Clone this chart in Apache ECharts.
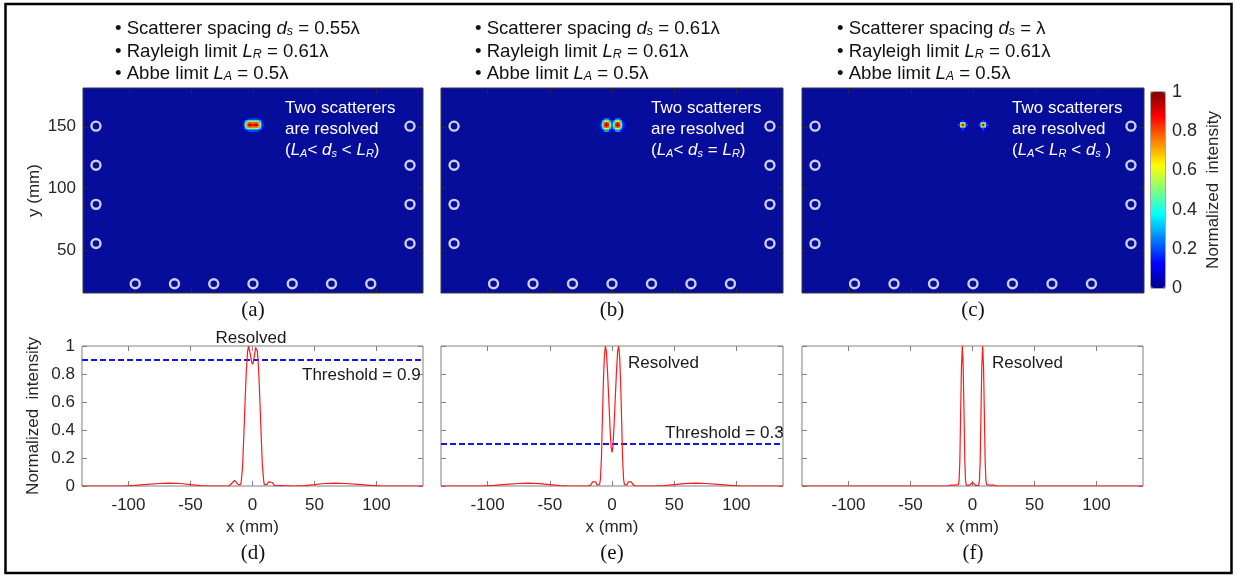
<!DOCTYPE html>
<html>
<head>
<meta charset="utf-8">
<script src="https://cdn.jsdelivr.net/npm/echarts@6/dist/echarts.min.js"></script>
<style>
  html, body { margin: 0; padding: 0; background: #fff; }
  #chart { width: 1237px; height: 577px; }
</style>
</head>
<body>
<div id="chart"></div>
<script>
const FONT = 'Liberation Sans, Arial, Helvetica, sans-serif';
const SERIF = 'Liberation Serif, Times New Roman, serif';

// axes
const xTicks = [-100, -50, 0, 50, 100];
const mapYTicks = [50, 100, 150];
const colorbarTicks = [0, 0.2, 0.4, 0.6, 0.8, 1];

// sensor positions (mm)
const sensorSideX = [-127, 127];
const sensorSideY = [150.5, 118.75, 87, 55.25];
const sensorBottomX = [-95.25, -63.5, -31.75, 0, 31.75, 63.5, 95.25];
const sensorBottomY = 22.5;

// image patches around the two scatterers (normalized intensity)
const spotAX = [-7.5, -6, -4.5, -3, -1.5, 0, 1.5, 3, 4.5, 6, 7.5];
const spotAY = [156, 154.5, 153, 151.5, 150, 148.5, 147];
const spotA = [
  [0.05, 0.1, 0.15, 0.2, 0.2, 0.2, 0.2, 0.2, 0.15, 0.1, 0.05],
  [0.1, 0.3, 0.45, 0.52, 0.5, 0.5, 0.5, 0.52, 0.45, 0.3, 0.1],
  [0.15, 0.45, 0.72, 0.82, 0.8, 0.78, 0.8, 0.82, 0.72, 0.45, 0.15],
  [0.18, 0.52, 0.8, 0.96, 0.9, 0.86, 0.9, 0.96, 0.8, 0.52, 0.18],
  [0.15, 0.45, 0.72, 0.82, 0.8, 0.78, 0.8, 0.82, 0.72, 0.45, 0.15],
  [0.1, 0.3, 0.45, 0.52, 0.5, 0.5, 0.5, 0.52, 0.45, 0.3, 0.1],
  [0.05, 0.1, 0.15, 0.2, 0.2, 0.2, 0.2, 0.2, 0.15, 0.1, 0.05]
];

const spotBX = [-9, -7.5, -6, -4.5, -3, -1.5, 0, 1.5, 3, 4.5, 6, 7.5, 9];
const spotBY = [156, 154.5, 153, 151.5, 150, 148.5, 147];
const spotB = [
  [0.05, 0.12, 0.25, 0.3, 0.25, 0.12, 0.06, 0.12, 0.25, 0.3, 0.25, 0.12, 0.05],
  [0.1, 0.3, 0.55, 0.65, 0.55, 0.3, 0.15, 0.3, 0.55, 0.65, 0.55, 0.3, 0.1],
  [0.15, 0.42, 0.78, 0.9, 0.78, 0.42, 0.22, 0.42, 0.78, 0.9, 0.78, 0.42, 0.15],
  [0.18, 0.5, 0.86, 0.97, 0.86, 0.5, 0.26, 0.5, 0.86, 0.97, 0.86, 0.5, 0.18],
  [0.15, 0.42, 0.78, 0.9, 0.78, 0.42, 0.22, 0.42, 0.78, 0.9, 0.78, 0.42, 0.15],
  [0.1, 0.3, 0.55, 0.65, 0.55, 0.3, 0.15, 0.3, 0.55, 0.65, 0.55, 0.3, 0.1],
  [0.05, 0.12, 0.25, 0.3, 0.25, 0.12, 0.06, 0.12, 0.25, 0.3, 0.25, 0.12, 0.05]
];

const spotCX = [-11.2, -9.7, -8.2, -6.7, -5.2, 5.2, 6.7, 8.2, 9.7, 11.2];
const spotCY = [154.5, 153, 151.5, 150, 148.5];
const spotC = [
  [0.04, 0.12, 0.2, 0.12, 0.04, 0.04, 0.12, 0.2, 0.12, 0.04],
  [0.12, 0.45, 0.7, 0.45, 0.12, 0.12, 0.45, 0.7, 0.45, 0.12],
  [0.2, 0.7, 0.95, 0.7, 0.2, 0.2, 0.7, 0.95, 0.7, 0.2],
  [0.12, 0.45, 0.7, 0.45, 0.12, 0.12, 0.45, 0.7, 0.45, 0.12],
  [0.04, 0.12, 0.2, 0.12, 0.04, 0.04, 0.12, 0.2, 0.12, 0.04]
];

// profiles along y = 150 mm
const profileD = [
  [-137.5, 0], [-105, 0], [-95, 0.004], [-85, 0.012], [-75, 0.018], [-67, 0.02], [-58, 0.018], [-50, 0.01],
  [-42, 0.003], [-35, 0], [-19, 0], [-17.5, 0.005], [-16, 0.025], [-14.5, 0.04], [-13, 0.03], [-11.5, 0.01],
  [-10.5, 0], [-9.5, 0.01], [-9, 0.04], [-8, 0.14], [-7, 0.36], [-6, 0.6], [-5, 0.82], [-4, 0.96],
  [-3.2, 1.0], [-2.5, 0.99], [-1.5, 0.93], [-0.7, 0.885], [0, 0.87], [0.7, 0.885], [1.5, 0.93], [2.5, 0.99],
  [3.2, 1.0], [4, 0.96], [5, 0.82], [6, 0.6], [7, 0.36], [8, 0.14], [9, 0.04], [9.5, 0.01],
  [10.5, 0], [11.5, 0.01], [13, 0.03], [14.5, 0.04], [16, 0.025], [17.5, 0.005], [19, 0], [35, 0],
  [42, 0.003], [50, 0.01], [58, 0.018], [67, 0.02], [75, 0.018], [85, 0.012], [95, 0.004], [105, 0], [137.5, 0]
];
const profileE = [
  [-137.5, 0], [-105, 0], [-95, 0.004], [-85, 0.012], [-75, 0.018], [-68, 0.02], [-58, 0.017], [-50, 0.01],
  [-42, 0.003], [-35, 0], [-19, 0], [-17, 0.008], [-15.5, 0.03], [-14.5, 0.04], [-13.2, 0.03], [-12, 0.008],
  [-11, 0], [-10, 0.01], [-9.3, 0.05], [-8.5, 0.2], [-7.8, 0.45], [-7, 0.72], [-6.2, 0.92], [-5.3, 1.0],
  [-4.5, 0.96], [-3.5, 0.8], [-2.5, 0.6], [-1.5, 0.4], [-0.7, 0.28], [0, 0.24], [0.7, 0.28], [1.5, 0.4],
  [2.5, 0.6], [3.5, 0.8], [4.5, 0.96], [5.3, 1.0], [6.2, 0.92], [7, 0.72], [7.8, 0.45], [8.5, 0.2],
  [9.3, 0.05], [10, 0.01], [11, 0], [12, 0.008], [13.2, 0.03], [14.5, 0.04], [15.5, 0.03], [17, 0.008],
  [19, 0], [35, 0], [42, 0.003], [50, 0.01], [58, 0.017], [68, 0.02], [75, 0.018], [85, 0.012], [95, 0.004],
  [105, 0], [137.5, 0]
];
const profileF = [
  [-137.5, 0], [-20, 0], [-17, 0.006], [-15.5, 0.01], [-14, 0.006], [-12.5, 0], [-11.4, 0.01], [-10.8, 0.04],
  [-10.2, 0.18], [-9.6, 0.5], [-8.9, 0.85], [-8.2, 1.0], [-7.5, 0.85], [-6.8, 0.5], [-6.2, 0.18], [-5.6, 0.04],
  [-5, 0.005], [-4, 0], [-2.5, 0.005], [-1.5, 0.018], [0, 0.025], [1.5, 0.018], [2.5, 0.005], [4, 0],
  [5, 0.005], [5.6, 0.04], [6.2, 0.18], [6.8, 0.5], [7.5, 0.85], [8.2, 1.0], [8.9, 0.85], [9.6, 0.5],
  [10.2, 0.18], [10.8, 0.04], [11.4, 0.01], [12.5, 0], [14, 0.006], [15.5, 0.01], [17, 0.006], [20, 0], [137.5, 0]
];
const thresholdD = 0.9;
const thresholdE = 0.3;

const spacingText = ['0.55λ', '0.61λ', 'λ'];
const conditionText = [
  '{w|(}{i|L}{s|A}{w|< }{i|d}{s|s}{w| < }{i|L}{s|R}{w|)}',
  '{w|(}{i|L}{s|A}{w|< }{i|d}{s|s}{w| = }{i|L}{s|R}{w|)}',
  '{w|(}{i|L}{s|A}{w|< }{i|L}{s|R}{w| < }{i|d}{s|s}{w| )}'
];

const jet = ['#00008f', '#0000ff', '#0080ff', '#00ffff', '#80ff80', '#ffff00', '#ff8000', '#ff0000', '#800000'];

function cells(xs, ys, m) {
  const out = [];
  ys.forEach((y, i) => xs.forEach((x, j) => { if (m[i][j] > 0) out.push([x, y, m[i][j]]); }));
  return out;
}
const sensors = sensorSideY.flatMap(y => sensorSideX.map(x => [x, y]))
  .concat(sensorBottomX.map(x => [x, sensorBottomY]));

const grids = [
  { left: 83, top: 88, width: 340, height: 205 },
  { left: 441, top: 88, width: 342, height: 205 },
  { left: 802, top: 88, width: 342, height: 205 },
  { left: 82, top: 346, width: 341, height: 140 },
  { left: 441, top: 346, width: 342, height: 140 },
  { left: 802, top: 346, width: 341, height: 140 },
  { left: 1151, top: 92, width: 14, height: 196 }
].map((g, i) => Object.assign(g, {
  show: true,
  backgroundColor: i < 3 ? '#070d9b' : 'transparent',
  borderColor: i < 3 ? '#3a3a3a' : (i < 6 ? '#808080' : '#555'),
  borderWidth: 1
}));

const labelStyle = { fontSize: 17, color: '#262626', fontFamily: FONT };
const xAxis = [], yAxis = [];
for (let i = 0; i < 6; i++) {
  const isMap = i < 3;
  const tickColor = isMap ? '#2a2a2a' : '#808080';
  const xt = { show: true, inside: true, length: 5, lineStyle: { color: tickColor }, customValues: xTicks };
  ['bottom', 'top'].forEach(pos => {
    const withLabels = !isMap && pos === 'bottom';
    xAxis.push({
      gridIndex: i, type: 'value', position: pos, min: -137.5, max: 137.5,
      axisLine: { show: false, onZero: false }, splitLine: { show: false }, axisTick: xt,
      axisLabel: withLabels ? Object.assign({ customValues: xTicks, margin: 11 }, labelStyle) : { show: false },
      name: withLabels ? 'x (mm)' : '', nameLocation: 'middle', nameGap: 33, nameTextStyle: labelStyle
    });
  });
  ['left', 'right'].forEach(pos => {
    const withLabels = pos === 'left' && (i === 0 || i === 3);
    const yt = { show: true, inside: true, length: 5, lineStyle: { color: tickColor } };
    const ax = {
      gridIndex: i, type: 'value', position: pos,
      axisLine: { show: false, onZero: false }, splitLine: { show: false },
      axisLabel: withLabels ? Object.assign({ margin: 7 }, labelStyle) : { show: false },
      name: withLabels ? (isMap ? 'y (mm)' : 'Normalized  intensity') : '',
      nameLocation: 'middle', nameGap: 40, nameRotate: 90, nameTextStyle: labelStyle
    };
    if (isMap) {
      Object.assign(ax, { min: 15, max: 181.5, axisTick: Object.assign({ customValues: mapYTicks }, yt) });
      if (withLabels) ax.axisLabel.customValues = mapYTicks;
    } else {
      Object.assign(ax, { min: 0, max: 1, interval: 0.2, axisTick: yt });
    }
    yAxis.push(ax);
  });
}
// colorbar axes
xAxis.push({ gridIndex: 6, type: 'value', show: false, min: 0, max: 1 });
yAxis.push({
  gridIndex: 6, type: 'value', position: 'right', min: 0, max: 1, interval: 0.2,
  axisLine: { show: false, onZero: false }, splitLine: { show: false }, axisTick: { show: false },
  axisLabel: { margin: 7, fontSize: 18, color: '#262626', fontFamily: FONT },
  name: 'Normalized  intensity', nameLocation: 'middle', nameGap: 40, nameRotate: 90, nameTextStyle: labelStyle
});

const CELL = 1.5;
function renderCell(params, api) {
  const c = api.coord([api.value(0), api.value(1)]);
  const s = api.size([CELL, CELL]);
  return {
    type: 'rect',
    shape: { x: c[0] - s[0] / 2, y: c[1] - s[1] / 2, width: s[0] + 0.6, height: s[1] + 0.6 },
    style: { fill: api.visual('color') }
  };
}

const series = [];
[cells(spotAX, spotAY, spotA), cells(spotBX, spotBY, spotB), cells(spotCX, spotCY, spotC)].forEach((d, i) => {
  series.push({ type: 'custom', xAxisIndex: 2 * i, yAxisIndex: 2 * i, data: d, encode: { x: 0, y: 1 }, renderItem: renderCell, silent: true });
});
for (let i = 0; i < 3; i++) {
  series.push({
    type: 'scatter', xAxisIndex: 2 * i, yAxisIndex: 2 * i, data: sensors, symbol: 'circle', symbolSize: 9,
    itemStyle: { color: 'transparent', borderColor: '#ffffff', borderWidth: 2.4 }, silent: true, z: 5
  });
}
[[thresholdD, 3], [thresholdE, 4]].forEach(([t, g]) => {
  series.push({
    type: 'line', xAxisIndex: 2 * g, yAxisIndex: 2 * g, data: [[-137.5, t], [137.5, t]], showSymbol: false,
    lineStyle: { color: '#1515e6', width: 2, type: [6, 3] }, silent: true, z: 3
  });
});
[profileD, profileE, profileF].forEach((d, i) => {
  series.push({
    type: 'line', xAxisIndex: 2 * (i + 3), yAxisIndex: 2 * (i + 3), data: d, showSymbol: false,
    lineStyle: { color: '#ff1a1a', width: 1.2 }, silent: true, z: 4
  });
});

function richSet(color, size, subSize, lh) {
  return {
    t: { fontSize: size, lineHeight: lh, fontFamily: FONT, fill: color, verticalAlign: 'bottom' },
    w: { fontSize: size, lineHeight: lh, fontFamily: FONT, fill: color, verticalAlign: 'bottom' },
    i: { fontSize: size, lineHeight: lh, fontFamily: FONT, fontStyle: 'italic', fill: color, verticalAlign: 'bottom' },
    s: { fontSize: subSize, lineHeight: subSize, fontFamily: FONT, fontStyle: 'italic', fill: color, verticalAlign: 'bottom' }
  };
}
const headerRich = richSet('#111111', 18.6, 12.5, 22.5);
const whiteRich = richSet('#ffffff', 17, 11, 21);

const graphic = [{
  type: 'rect', shape: { x: 5.5, y: 4, width: 1226, height: 569 },
  style: { fill: 'none', stroke: '#000', lineWidth: 2.5 }, silent: true
}];
const headerX = [115, 475, 837];
const whiteX = [285, 651, 1012];
const panelCx = [253, 612, 973];
for (let i = 0; i < 3; i++) {
  graphic.push({
    type: 'text', x: headerX[i], y: 16, silent: true,
    style: {
      text: '{t|• Scatterer spacing }{i|d}{s|s}{t| = ' + spacingText[i] + '}\n' +
            '{t|• Rayleigh limit }{i|L}{s|R}{t| = 0.61λ}\n' +
            '{t|• Abbe limit }{i|L}{s|A}{t| = 0.5λ}',
      rich: headerRich, verticalAlign: 'top', align: 'left'
    }
  });
  graphic.push({
    type: 'text', x: whiteX[i], y: 96, silent: true, z: 10,
    style: {
      text: '{w|Two scatterers}\n{w|are resolved}\n' + conditionText[i],
      rich: whiteRich, verticalAlign: 'top', align: 'left'
    }
  });
  graphic.push({
    type: 'text', x: panelCx[i], y: 310, silent: true,
    style: { text: '(' + 'abc'[i] + ')', font: '21px ' + SERIF, fill: '#111', align: 'center', verticalAlign: 'middle' }
  });
  graphic.push({
    type: 'text', x: panelCx[i], y: 553, silent: true,
    style: { text: '(' + 'def'[i] + ')', font: '21px ' + SERIF, fill: '#111', align: 'center', verticalAlign: 'middle' }
  });
}
const plainText = [
  ['Resolved', 251, 338, 'center'],
  ['Resolved', 628, 363, 'left'],
  ['Resolved', 992, 363, 'left'],
  ['Threshold = 0.9', 302, 375, 'left'],
  ['Threshold = 0.3', 665, 433, 'left']
];
plainText.forEach(([t, x, y, a]) => {
  graphic.push({
    type: 'text', x: x, y: y, silent: true, z: 10,
    style: { text: t, font: '17px ' + FONT, fill: '#1a1a1a', align: a, verticalAlign: 'middle' }
  });
});

const chart = echarts.init(document.getElementById('chart'), null, { renderer: 'canvas' });
chart.setOption({
  animation: false,
  backgroundColor: '#ffffff',
  grid: grids,
  xAxis: xAxis,
  yAxis: yAxis,
  visualMap: {
    type: 'continuous', min: 0, max: 1, dimension: 2, seriesIndex: [0, 1, 2],
    calculable: false, hoverLink: false, realtime: false,
    inRange: { color: jet },
    orient: 'vertical', left: 1151, top: 92, itemWidth: 14, itemHeight: 196, padding: 0,
    text: null, showLabel: false
  },
  graphic: graphic,
  series: series
});
</script>
</body>
</html>
